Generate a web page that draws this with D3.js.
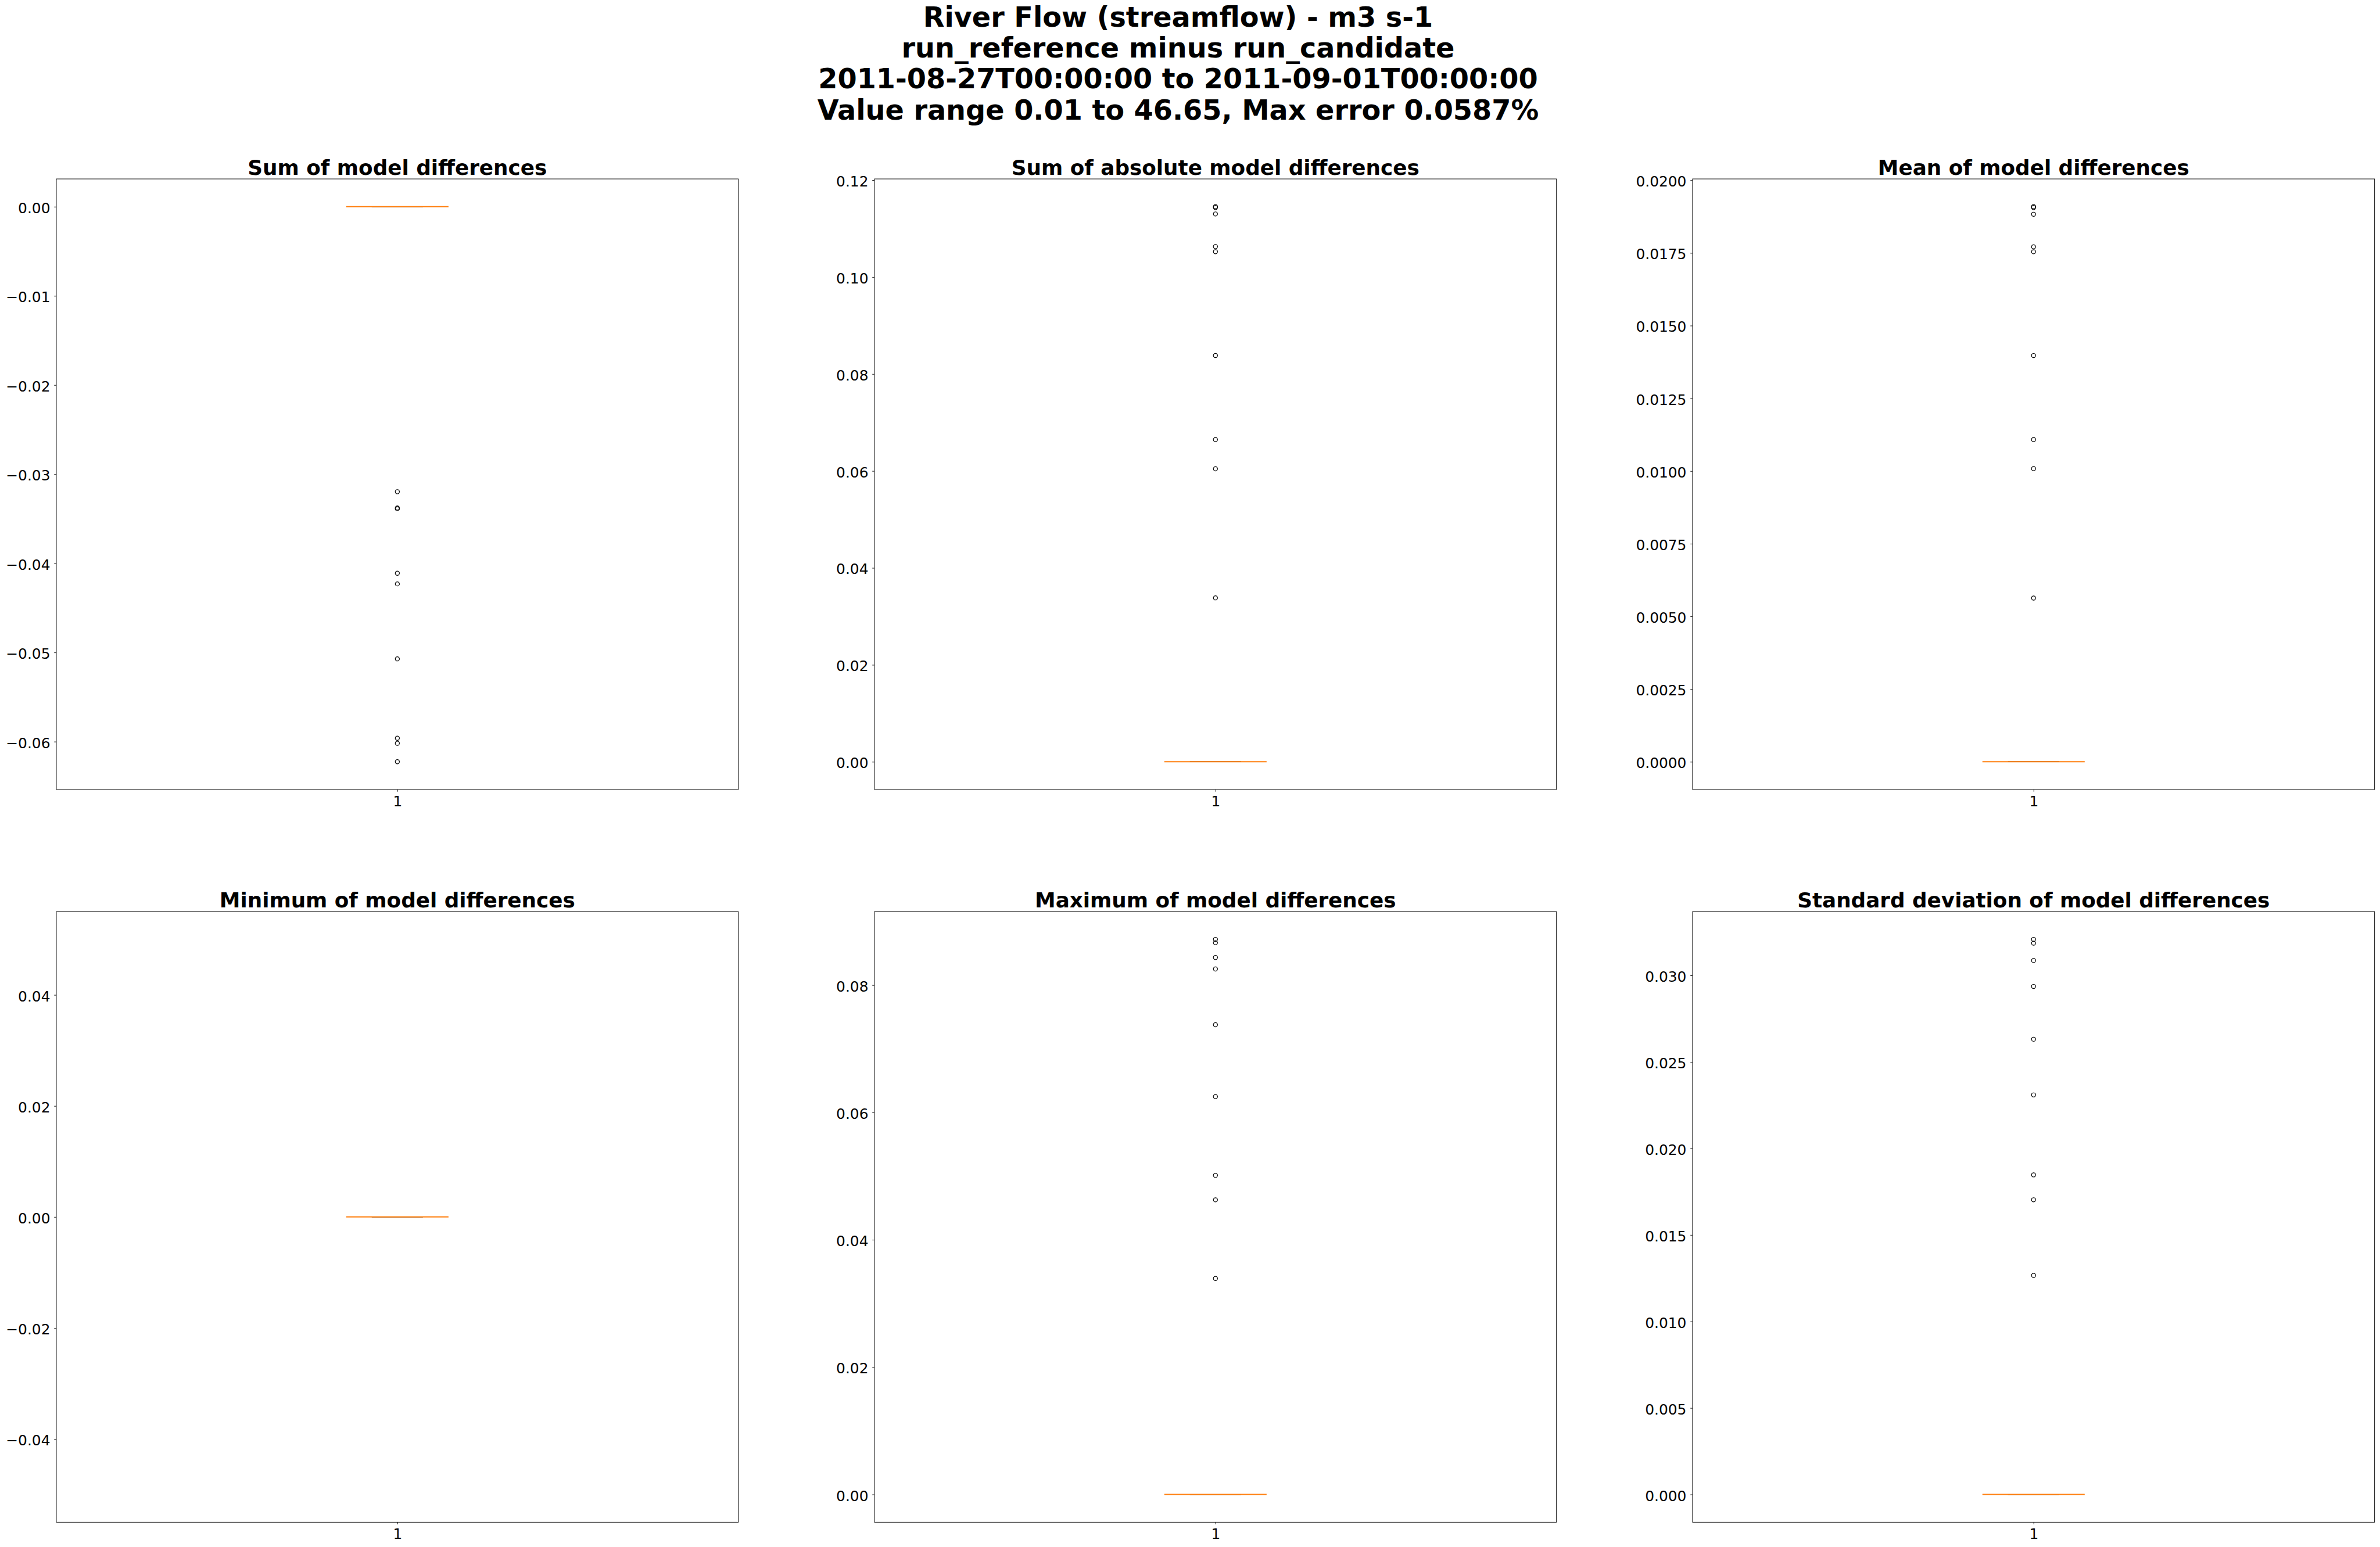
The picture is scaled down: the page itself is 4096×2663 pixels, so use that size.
<!DOCTYPE html>
<html>
<head>
<meta charset="utf-8">
<script src="https://cdn.jsdelivr.net/npm/d3@7"></script>
<style>
  html, body { margin: 0; padding: 0; background: #ffffff; }
  svg { display: block; }
  text { font-family: "DejaVu Sans", sans-serif; fill: #000; }
</style>
</head>
<body>
<script>
// ---------------- DATA ----------------
const suptitleLines = [
  "River Flow (streamflow) - m3 s-1",
  "run_reference minus run_candidate",
  "2011-08-27T00:00:00 to 2011-09-01T00:00:00",
  "Value range 0.01 to 46.65, Max error 0.0587%"
];

const panelTitles = [
  "Sum of model differences",
  "Sum of absolute model differences",
  "Mean of model differences",
  "Minimum of model differences",
  "Maximum of model differences",
  "Standard deviation of model differences"
];

const categories = ["1"];

// box statistics (whisker low, q1, median, q3, whisker high) for each panel
const boxSum     = [0, 0, 0, 0, 0];
const boxSumAbs  = [0, 0, 0, 0, 0];
const boxMean    = [0, 0, 0, 0, 0];
const boxMin     = [0, 0, 0, 0, 0];
const boxMax     = [0, 0, 0, 0, 0];
const boxStd     = [0, 0, 0, 0, 0];

// outliers (fliers)
const fliersSum    = [-0.03197, -0.03380, -0.03389, -0.04111, -0.04231, -0.05072, -0.05962, -0.06019, -0.06226];
const fliersSumAbs = [0.11451, 0.11434, 0.11301, 0.10628, 0.10522, 0.08381, 0.06646, 0.06044, 0.03381];
const fliersMean   = [0.01909, 0.01906, 0.01883, 0.01771, 0.01754, 0.01397, 0.01108, 0.01008, 0.00563];
const fliersMin    = [];
const fliersMax    = [0.08717, 0.08664, 0.08432, 0.08252, 0.07376, 0.06247, 0.05012, 0.04627, 0.03392];
const fliersStd    = [0.03208, 0.03186, 0.03086, 0.02936, 0.02631, 0.02309, 0.01847, 0.01703, 0.01266];

// y tick values and their label decimals
const ticksSum    = [0, -0.01, -0.02, -0.03, -0.04, -0.05, -0.06];
const ticksSumAbs = [0, 0.02, 0.04, 0.06, 0.08, 0.10, 0.12];
const ticksMean   = [0, 0.0025, 0.005, 0.0075, 0.01, 0.0125, 0.015, 0.0175, 0.02];
const ticksMin    = [-0.04, -0.02, 0, 0.02, 0.04];
const ticksMax    = [0, 0.02, 0.04, 0.06, 0.08];
const ticksStd    = [0, 0.005, 0.01, 0.015, 0.02, 0.025, 0.03];
const tickDecimals = [2, 2, 4, 2, 2, 3];

// ---------------- LAYOUT ----------------
const S = 0.858;
const W = 4096, H = 2663;
const colLeft = [113, 1754, 3395].map(v => v * S);
const rowTop = [359, 1829].map(v => v * S);
const axW = 1368 * S, axH = 1225 * S;
const tickFs = 29 * S, titleFs = 41.67 * S, supFs = 55.6 * S;
const tickLen = 4.3 * S, tickPad = 7.9 * S;
const spineW = 1.11 * S, lineW = 1.39 * S;
const flierR = 4.17 * S;

const panels = [
  { title: panelTitles[0], box: boxSum,    fliers: fliersSum,    ticks: ticksSum },
  { title: panelTitles[1], box: boxSumAbs, fliers: fliersSumAbs, ticks: ticksSumAbs },
  { title: panelTitles[2], box: boxMean,   fliers: fliersMean,   ticks: ticksMean },
  { title: panelTitles[3], box: boxMin,    fliers: fliersMin,    ticks: ticksMin },
  { title: panelTitles[4], box: boxMax,    fliers: fliersMax,    ticks: ticksMax },
  { title: panelTitles[5], box: boxStd,    fliers: fliersStd,    ticks: ticksStd }
];

const svg = d3.select("body").append("svg")
  .attr("width", W).attr("height", H)
  .attr("viewBox", `0 0 ${W} ${H}`);
svg.append("rect").attr("width", W).attr("height", H).attr("fill", "#fff");

// suptitle
const supX = 2363 * S;
const supBaselines = [53.3, 115.5, 177.7, 240.0].map(v => v * S);
svg.append("g").selectAll("text").data(suptitleLines).join("text")
  .attr("x", supX)
  .attr("y", (d, i) => supBaselines[i])
  .attr("text-anchor", "middle")
  .attr("font-weight", "bold")
  .attr("font-size", supFs)
  .text(d => d);

function fmt(v, dec) {
  const s = Math.abs(v).toFixed(dec);
  return (v < 0 && Math.abs(v) > 1e-12 ? "\u2212" : "") + s;
}

panels.forEach((p, i) => {
  const col = i % 3, row = Math.floor(i / 3);
  const g = svg.append("g").attr("transform", `translate(${colLeft[col]},${rowTop[row]})`);

  // y domain like matplotlib autoscale: data range + 5% margins
  const all = p.box.concat(p.fliers);
  let lo = d3.min(all), hi = d3.max(all);
  if (hi - lo < 1e-12) { lo = lo - 0.05; hi = hi + 0.05; }
  const m = (hi - lo) * 0.05;
  const y = d3.scaleLinear().domain([lo - m, hi + m]).range([axH, 0]);
  const x = d3.scaleLinear().domain([0.5, 1.5]).range([0, axW]);
  const xBand = d3.scalePoint().domain(categories).range([x(1), x(1)]);

  // y axis
  const yAxis = d3.axisLeft(y).tickValues(p.ticks)
    .tickSize(tickLen).tickPadding(tickPad)
    .tickFormat(v => fmt(v, tickDecimals[i]));
  const ya = g.append("g").call(yAxis);
  ya.select(".domain").remove();
  ya.selectAll(".tick line").attr("stroke", "#000").attr("stroke-width", spineW);
  ya.selectAll(".tick text")
    .attr("font-size", tickFs).attr("font-family", "DejaVu Sans")
    .attr("fill", "#000").attr("dy", "0.42em");

  // x axis
  const xAxis = d3.axisBottom(xBand).tickSize(tickLen).tickPadding(tickPad);
  const xa = g.append("g").attr("transform", `translate(0,${axH})`).call(xAxis);
  xa.select(".domain").remove();
  xa.selectAll(".tick line").attr("stroke", "#000").attr("stroke-width", spineW);
  xa.selectAll(".tick text")
    .attr("font-size", tickFs).attr("font-family", "DejaVu Sans")
    .attr("fill", "#000").attr("dy", null).attr("y", 33.8 * S)
    .attr("dominant-baseline", "alphabetic");

  // box plot
  const [wlo, q1, med, q3, whi] = p.box;
  const cx = x(1);
  const bw = 0.15 * (x(1.5) - x(0.5));
  const cw = bw / 2;
  const bg = g.append("g");
  // box
  bg.append("rect")
    .attr("x", cx - bw / 2).attr("width", bw)
    .attr("y", y(q3)).attr("height", Math.max(0, y(q1) - y(q3)))
    .attr("fill", "none").attr("stroke", "#000").attr("stroke-width", lineW);
  // whiskers
  bg.append("line").attr("x1", cx).attr("x2", cx).attr("y1", y(q1)).attr("y2", y(wlo))
    .attr("stroke", "#000").attr("stroke-width", lineW);
  bg.append("line").attr("x1", cx).attr("x2", cx).attr("y1", y(q3)).attr("y2", y(whi))
    .attr("stroke", "#000").attr("stroke-width", lineW);
  // caps
  [wlo, whi].forEach(v => {
    bg.append("line").attr("x1", cx - cw / 2).attr("x2", cx + cw / 2)
      .attr("y1", y(v)).attr("y2", y(v))
      .attr("stroke", "#000").attr("stroke-width", lineW);
  });
  // median
  bg.append("line").attr("x1", cx - bw / 2).attr("x2", cx + bw / 2)
    .attr("y1", y(med)).attr("y2", y(med))
    .attr("stroke", "#ff7f0e").attr("stroke-width", 2.0);
  // fliers
  bg.selectAll("circle").data(p.fliers).join("circle")
    .attr("cx", cx).attr("cy", d => y(d)).attr("r", flierR)
    .attr("fill", "none").attr("stroke", "#000").attr("stroke-width", 1.2);

  // spines
  g.append("rect").attr("x", 0).attr("y", 0).attr("width", axW).attr("height", axH)
    .attr("fill", "none").attr("stroke", "#000").attr("stroke-width", spineW);

  // title
  g.append("text").attr("x", axW / 2).attr("y", -8.3 * S)
    .attr("text-anchor", "middle").attr("font-weight", "bold")
    .attr("font-size", titleFs).text(p.title);
});
</script>
</body>
</html>
